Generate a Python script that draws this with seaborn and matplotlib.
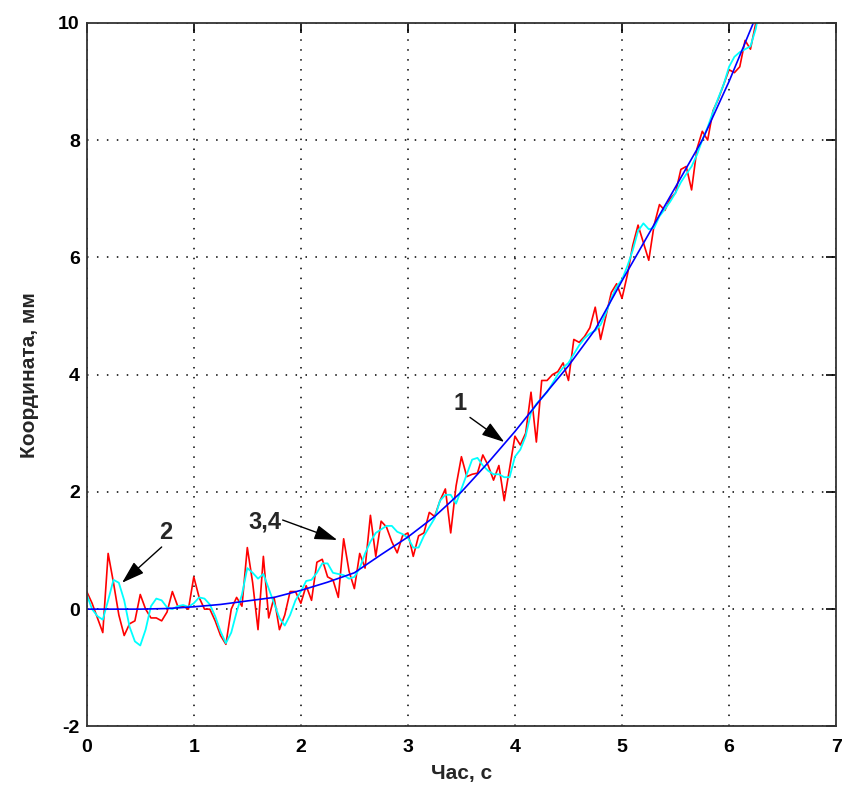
import numpy as np
import pandas as pd
import seaborn as sns
import matplotlib.pyplot as plt

# time grids
tFine = np.round(np.arange(0, 6.301, 0.05), 2)
tIdeal = np.round(np.arange(0, 6.251, 0.25), 2)

# 1 - ideal trajectory
idealCoord = [0.0, 0.0, 0.0, 0.01, 0.04, 0.08, 0.14, 0.2, 0.32, 0.46, 0.62, 0.93, 1.23,
              1.58, 2.0, 2.5, 3.03, 3.6, 4.15, 4.77, 5.6, 6.4, 7.2, 8.0, 9.0, 10.1]

# 2 - noisy measurement
measCoord = [0.3, 0.1, -0.15, -0.4, 0.95, 0.45, -0.1, -0.45, -0.25, -0.2,
             0.25, 0.0, -0.15, -0.15, -0.2, -0.05, 0.3, 0.05, 0.05, 0.0,
             0.55, 0.2, 0.0, 0.0, -0.2, -0.45, -0.6, 0.0, 0.2, 0.05,
             1.05, 0.45, -0.35, 0.9, -0.15, 0.2, -0.35, -0.1, 0.3, 0.3,
             0.1, 0.4, 0.15, 0.8, 0.85, 0.55, 0.5, 0.2, 1.2, 0.65,
             0.35, 0.95, 0.7, 1.6, 0.9, 1.5, 1.4, 1.15, 0.96, 1.25,
             1.3, 0.9, 1.25, 1.3, 1.65, 1.58, 1.85, 2.05, 1.3, 2.1,
             2.6, 2.26, 2.3, 2.32, 2.63, 2.45, 2.2, 2.45, 1.85, 2.4,
             2.95, 2.8, 3.0, 3.7, 2.85, 3.9, 3.9, 4.0, 4.05, 4.2,
             3.9, 4.6, 4.55, 4.65, 4.8, 5.15, 4.6, 5.0, 5.4, 5.55,
             5.3, 5.7, 6.2, 6.55, 6.25, 5.95, 6.55, 6.9, 6.8, 7.0,
             7.1, 7.5, 7.55, 7.15, 7.85, 8.15, 8.0, 8.5, 8.7, 8.95,
             9.2, 9.15, 9.25, 9.7, 9.55, 10.0, 10.5]

# 3,4 - filtered estimate
filtCoord = [0.25, 0.0, -0.12, -0.18, 0.15, 0.5, 0.45, 0.15, -0.3, -0.55,
             -0.62, -0.35, 0.05, 0.18, 0.15, 0.03, 0.0, 0.05, 0.07, 0.04,
             0.1, 0.2, 0.18, 0.08, -0.12, -0.38, -0.58, -0.4, -0.05, 0.25,
             0.7, 0.62, 0.52, 0.6, 0.35, 0.1, -0.15, -0.28, -0.1, 0.15,
             0.3, 0.48, 0.5, 0.62, 0.78, 0.78, 0.62, 0.6, 0.58, 0.52,
             0.55, 0.7, 0.95, 1.15, 1.3, 1.36, 1.42, 1.42, 1.32, 1.28,
             1.22, 1.05, 1.05, 1.25, 1.4, 1.55, 1.85, 1.95, 1.95, 1.8,
             2.05, 2.3, 2.55, 2.58, 2.45, 2.36, 2.3, 2.3, 2.25, 2.25,
             2.6, 2.72, 2.95, 3.35, 3.5, 3.6, 3.7, 3.85, 4.0, 4.12,
             4.2, 4.35, 4.5, 4.62, 4.7, 4.75, 4.85, 5.05, 5.3, 5.5,
             5.62, 5.85, 6.12, 6.45, 6.58, 6.48, 6.5, 6.7, 6.82, 6.95,
             7.1, 7.28, 7.42, 7.55, 7.75, 8.0, 8.22, 8.48, 8.72, 8.95,
             9.25, 9.42, 9.5, 9.55, 9.6, 9.9, 10.4]

xTicks = [0, 1, 2, 3, 4, 5, 6, 7]
yTicks = [-2, 0, 2, 4, 6, 8, 10]

dfIdeal = pd.DataFrame({'t': tIdeal, 'y': idealCoord})
dfMeas = pd.DataFrame({'t': tFine, 'y': measCoord})
dfFilt = pd.DataFrame({'t': tFine, 'y': filtCoord})

sns.set_style('white')
plt.rcParams['font.family'] = ['Liberation Sans', 'DejaVu Sans']
plt.rcParams['font.weight'] = 'bold'
plt.rcParams['axes.unicode_minus'] = False

fig = plt.figure(figsize=(8.42, 7.87), dpi=100)
ax = fig.add_axes([0.103, 0.077, 0.890, 0.894])

sns.lineplot(data=dfMeas, x='t', y='y', ax=ax, color='#ff0000', lw=1.2, estimator=None)
sns.lineplot(data=dfFilt, x='t', y='y', ax=ax, color='#00ffff', lw=1.3, estimator=None)
sns.lineplot(data=dfIdeal, x='t', y='y', ax=ax, color='#0000ff', lw=1.2, estimator=None)

ax.set_xlim(0, 7)
ax.set_ylim(-2, 10)
ax.set_xticks(xTicks)
ax.set_yticks(yTicks)
ax.grid(True, color='black', linestyle=(0, (1, 5.5)), linewidth=1.1)
ax.tick_params(direction='in', length=7, width=1.2, top=True, right=True,
               labelsize=14, colors='black')
ax.tick_params(axis='x', pad=9)
ax.tick_params(axis='y', pad=5)
for lab in ax.get_xticklabels() + ax.get_yticklabels():
    lab.set_fontweight('bold')
for sp in ax.spines.values():
    sp.set_color('#333333')
    sp.set_linewidth(1.3)

ax.set_xlabel('Час, с', fontsize=15, fontweight='bold', labelpad=6)
ax.set_ylabel('Координата, мм', fontsize=15, fontweight='bold', labelpad=14)

arrowKw = dict(arrowstyle='-|>,head_length=1.4,head_width=0.45', color='black', lw=1.0,
               shrinkA=0, shrinkB=0)
ax.annotate('', xy=(3.90, 2.85), xytext=(3.58, 3.27), arrowprops=arrowKw)
ax.text(3.49, 3.51, '1', fontsize=17, fontweight='bold', ha='center', va='center')
ax.annotate('', xy=(2.34, 1.18), xytext=(1.83, 1.52), arrowprops=arrowKw)
ax.text(1.66, 1.49, '3,4', fontsize=17, fontweight='bold', ha='center', va='center')
ax.annotate('', xy=(0.33, 0.45), xytext=(0.70, 1.06), arrowprops=arrowKw)
ax.text(0.74, 1.30, '2', fontsize=17, fontweight='bold', ha='center', va='center')

fig.savefig('out.png', dpi=100)
